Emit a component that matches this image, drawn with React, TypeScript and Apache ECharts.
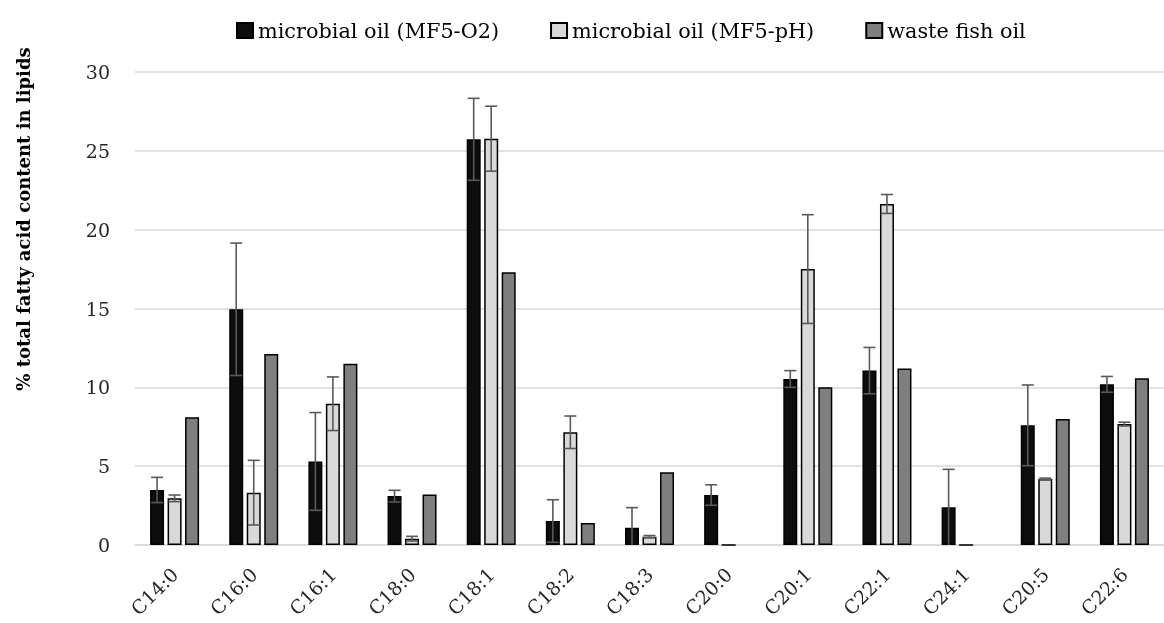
import React, { useEffect, useRef } from "react";
import * as echarts from "echarts";

const categories = ["C14:0", "C16:0", "C16:1", "C18:0", "C18:1", "C18:2", "C18:3", "C20:0", "C20:1", "C22:1", "C24:1", "C20:5", "C22:6"];
const seriesNames = ["microbial oil (MF5-O2)", "microbial oil (MF5-pH)", "waste fish oil"];
const o2Values = [3.49, 14.95, 5.3, 3.1, 25.73, 1.52, 1.1, 3.17, 10.53, 11.06, 2.39, 7.59, 10.19];
const o2Errors = [0.8, 4.2, 3.1, 0.37, 2.6, 1.35, 1.27, 0.65, 0.53, 1.47, 2.41, 2.56, 0.5];
const phValues = [2.96, 3.32, 8.96, 0.4, 25.77, 7.15, 0.53, 0, 17.5, 21.63, 0, 4.19, 7.67];
const phErrors = [0.21, 2.05, 1.7, 0.15, 2.06, 1.03, 0.07, null, 3.45, 0.6, null, 0.05, 0.12];
const fishValues: (number | string)[] = [8.1, 12.11, 11.5, 3.21, 17.3, 1.4, 4.61, "-", 10.0, 11.2, "-", 7.99, 10.57];
const yTicks = { min: 0, max: 30, interval: 5 };

const FONT = "DejaVu Serif";
const BAR_W = 14;
const BAR_GAP = 0.25;
const OFFSET = BAR_W * (1 + BAR_GAP);

export default function App() {
  const ref = useRef<HTMLDivElement>(null);
  useEffect(() => {
    if (!ref.current) return;
    const chart = echarts.init(ref.current, null, { renderer: "svg" });
    const errData: number[][] = [];
    const add = (vals: any[], errs: any[], s: number) => {
      vals.forEach((v, i) => {
        const e = errs[i];
        if (typeof v === "number" && e != null) errData.push([i, v - e, v + e, s]);
      });
    };
    add(o2Values, o2Errors, 0);
    add(phValues, phErrors, 1);
    const colors = ["#0d0d0d", "#d9d9d9", "#7f7f7f"];
    const barSeries = [o2Values, phValues, fishValues].map((d, k) => ({
      name: seriesNames[k],
      type: "bar",
      data: d,
      barWidth: BAR_W,
      barGap: BAR_GAP * 100 + "%",
      itemStyle: { color: colors[k], borderColor: "#000", borderWidth: 1.5 },
      z: 2,
    }));
    chart.setOption({
      animation: false,
      textStyle: { fontFamily: FONT },
      legend: {
        data: seriesNames,
        icon: "rect",
        left: 231,
        top: 15,
        itemWidth: 16,
        itemHeight: 15,
        itemGap: 51,
        textStyle: { fontFamily: FONT, fontSize: 20.8, color: "#000" },
      },
      grid: { left: 135, top: 72, width: 1034, height: 473 },
      xAxis: {
        type: "category",
        data: categories,
        axisLine: { lineStyle: { color: "#d9d9d9", width: 1.5 } },
        axisTick: { show: false },
        axisLabel: { rotate: 45, fontFamily: FONT, fontSize: 19, color: "#262626", margin: 26, interval: 0 },
      },
      yAxis: {
        type: "value",
        min: yTicks.min,
        max: yTicks.max,
        interval: yTicks.interval,
        axisLine: { show: false },
        axisTick: { show: false },
        splitLine: { lineStyle: { color: "#d9d9d9", width: 1.5 } },
        axisLabel: { fontFamily: FONT, fontSize: 19, color: "#262626", margin: 25 },
      },
      graphic: [
        {
          type: "text",
          x: 23,
          y: 219,
          rotation: Math.PI / 2,
          style: {
            text: "% total fatty acid content in lipids",
            fontFamily: FONT,
            fontWeight: "bold",
            fontSize: 18,
            fill: "#000",
            textAlign: "center",
            textVerticalAlign: "middle",
          },
        },
      ],
      series: [
        ...barSeries,
        {
          type: "custom",
          data: errData,
          z: 5,
          renderItem: (params: any, api: any) => {
            const cat = api.value(0);
            const rawLo = api.value(1);
            const lo = Math.max(0, rawLo);
            const hi = api.value(2);
            const s = api.value(3);
            const pLo = api.coord([cat, lo]);
            const pHi = api.coord([cat, hi]);
            const x = pLo[0] + (s - 1) * OFFSET;
            const cap = 6;
            const st = { stroke: "#595959", lineWidth: 1.6 };
            const children: any[] = [
              { type: "line", shape: { x1: x, y1: pLo[1], x2: x, y2: pHi[1] }, style: st },
              { type: "line", shape: { x1: x - cap, y1: pHi[1], x2: x + cap, y2: pHi[1] }, style: st },
            ];
            if (rawLo > 0) {
              children.push({ type: "line", shape: { x1: x - cap, y1: pLo[1], x2: x + cap, y2: pLo[1] }, style: st });
            }
            return { type: "group", children };
          },
        },
      ],
    });
    return () => chart.dispose();
  }, []);
  return <div ref={ref} style={{ position: "fixed", left: 0, top: 0, width: 1164, height: 623 }} />;
}
